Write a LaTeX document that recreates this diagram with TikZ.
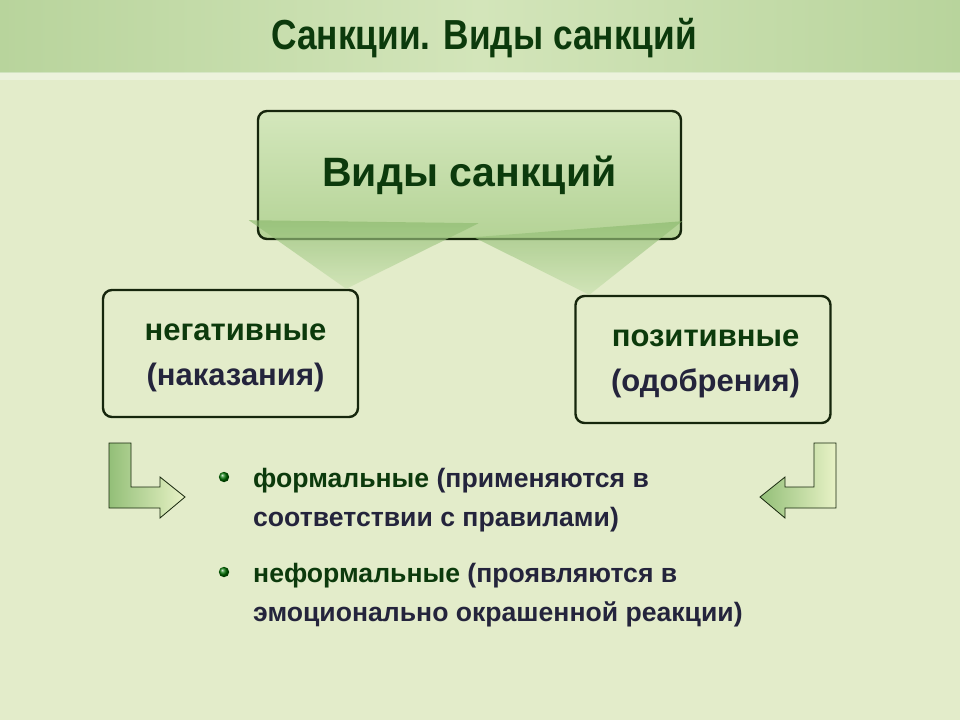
\documentclass[tikz,border=0pt]{standalone}
\usepackage{fontspec}
\setmainfont{Liberation Sans}
\usepackage{graphicx}
\usetikzlibrary{positioning,calc}
\definecolor{bgpale}{HTML}{E3ECCA}
\definecolor{bandmid}{HTML}{D3E5BA}
\definecolor{bandside}{HTML}{B8D49C}
\definecolor{inkgreen}{HTML}{0C3A0C}
\definecolor{inknavy}{HTML}{24243C}
\definecolor{edgedark}{HTML}{16260C}
\definecolor{boxtop}{HTML}{D4E7BC}
\definecolor{boxbot}{HTML}{B4D396}
\definecolor{shadedark}{HTML}{8AB96C}
\definecolor{shadelight}{HTML}{C9E1AF}
\definecolor{arrowdark}{HTML}{93BF78}
\definecolor{arrowlight}{HTML}{E8F2C6}
\tikzset{
  kindbox/.style={draw=edgedark, line width=2.4pt, rounded corners=9pt,
    top color=boxtop, bottom color=boxbot, minimum width=423pt, minimum height=128pt,
    text=inkgreen, font={\fontsize{41}{41}\selectfont\bfseries}},
  sidebox/.style={draw=edgedark, line width=2.4pt, rounded corners=9pt,
    minimum width=255pt, minimum height=127pt, align=center,
    font={\fontsize{31}{45}\selectfont\bfseries}},
  turnarrow/.style={draw=edgedark, line width=0.8pt, left color=arrowdark, right color=arrowlight},
  shadowband/.style={top color=shadedark, bottom color=shadelight, fill opacity=0.65},
  itemtext/.style={anchor=base west, align=left, text=inknavy, inner sep=0pt,
    font={\fontsize{26.6}{39}\selectfont\bfseries}},
  itemball/.style={ball color=green!45!black}
}
\begin{document}
\begin{tikzpicture}[x=1pt,y=-1pt]
\useasboundingbox (0,0) rectangle (960,720);
\fill[bgpale] (0,0) rectangle (960,720);
\shade[left color=bandside, right color=bandmid] (0,0) rectangle (480,72);
\shade[left color=bandmid, right color=bandside] (480,0) rectangle (960,72);
\fill[white, opacity=0.35] (0,72) rectangle (960,80);

\node (title) [text=inkgreen, font={\fontsize{42}{42}\selectfont\bfseries}] at (484,38)
  {\scalebox{0.84}[1]{Санкции. Виды санкций}};

\node (vs) [kindbox] at (469.5,175) {Виды санкций};
\node (neg) [sidebox] at (230.5,353.5)
  {\hspace*{10pt}\textcolor{inkgreen}{негативные}\strut\\\hspace*{10pt}\textcolor{inknavy}{(наказания)}\strut};
\node (pos) [sidebox] at (703,359.5)
  {\hspace*{5pt}\textcolor{inkgreen}{позитивные}\strut\\\hspace*{5pt}\textcolor{inknavy}{(одобрения)}\strut};

\shade[shadowband] ($(vs.south west)+(-8,-20)$) -- ($(vs.south west)+(222,-17)$)
  -- ($(neg.north east)+(-13,0)$) -- cycle;
\shade[shadowband] ($(vs.south west)+(217,-3)$) -- ($(vs.south east)+(0,-19)$)
  -- ($(pos.north west)+(15,0)$) -- cycle;

\shade[turnarrow]
  (109,443) -- (131,443) -- (131,487) -- (160,487) -- (160,477) -- (185,497)
  -- (160,518) -- (160,508) -- (109,508) -- cycle;
\shade[turnarrow]
  (836,443) -- (814,443) -- (814,487) -- (785,487) -- (785,477) -- (760,497)
  -- (785,518) -- (785,508) -- (836,508) -- cycle;

\node (fm) [itemtext] at (253,526)
  {\textcolor{inkgreen}{формальные} (применяются в\\соответствии с правилами)};
\node (nf) [itemtext] at (253,621)
  {\textcolor{inkgreen}{неформальные} (проявляются в\\эмоционально окрашенной реакции)};
\shade[itemball] ($(fm.base west)+(-29,-49)$) circle (5.2);
\shade[itemball] ($(nf.base west)+(-29,-49)$) circle (5.2);
\end{tikzpicture}
\end{document}
